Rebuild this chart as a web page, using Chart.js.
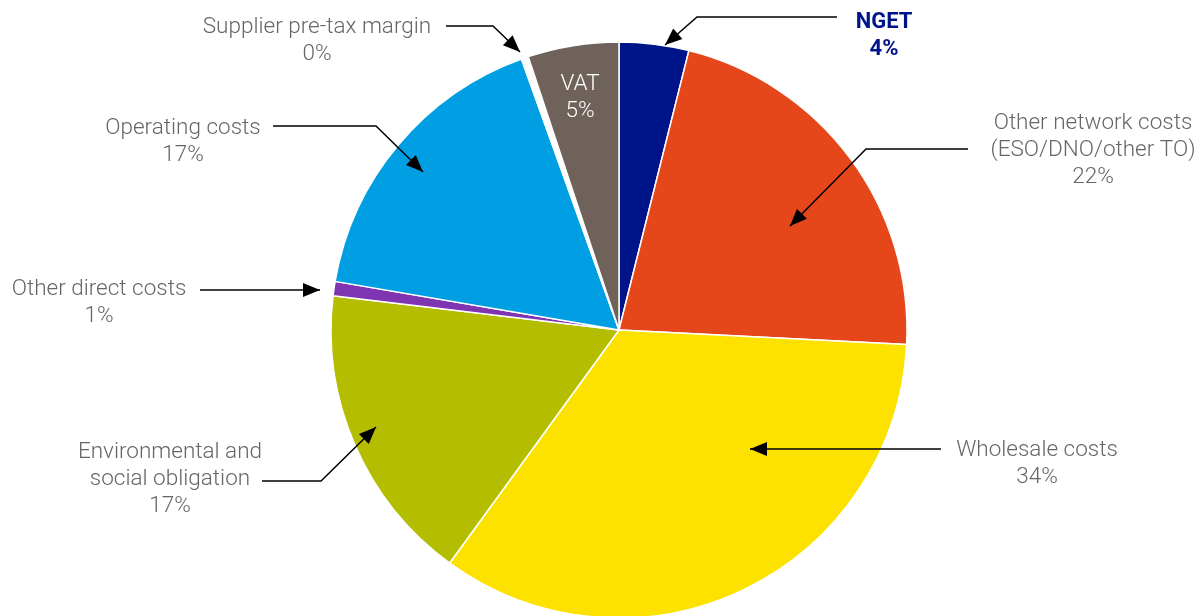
<!DOCTYPE html>
<html>
<head>
<meta charset="utf-8">
<script src="https://cdn.jsdelivr.net/npm/chart.js@4"></script>
<style>
  html, body { margin: 0; padding: 0; background: #fff; }
  #wrap { width: 1202px; height: 616px; }
</style>
</head>
<body>
<div id="wrap"><canvas id="pieChart" width="1202" height="616"></canvas></div>
<script>
var categories = ['NGET', 'Other network costs\n(ESO/DNO/other TO)', 'Wholesale costs', 'Environmental and\nsocial obligation', 'Other direct costs', 'Operating costs', 'Supplier pre-tax margin', 'VAT'];
var values = [3.9, 21.9, 34.2, 16.9, 0.8, 16.8, 0.4, 5.1];
var colors = ['#001489', '#e5471b', '#fde200', '#b5bd00', '#7f35b2', '#009fe3', '#ffffff', '#6e625a'];

// label placement: text centre, then leader path (last point = arrow tip)
var callouts = [
    { x: 884, y: 22, color: '#001489', bold: true, path: [[837, 17], [697, 17], [665, 45]] },
    { x: 1093, y: 123, path: [[968, 149], [866, 149], [790, 226]] },
    { x: 1037, y: 450, path: [[941, 449], [750, 449]] },
    { x: 170, y: 452, path: [[262, 481], [321, 481], [376, 427]] },
    { x: 99, y: 289, path: [[200, 290], [320, 290]] },
    { x: 183, y: 128, path: [[273, 126], [376, 126], [423, 172]] },
    { x: 317, y: 27, path: [[446, 26], [493, 26], [520, 52]] },
    { x: 580, y: 84, color: '#ffffff', path: null }
];

var calloutPlugin = {
    id: 'callouts',
    afterDraw: function (chart) {
        var c = chart.ctx;
        c.save();
        callouts.forEach(function (co, i) {
            var lines = categories[i].split('\n');
            lines.push(Math.round(values[i]) + '%');
            c.font = (co.bold ? 'bold 22px' : '300 22.5px') + ' Roboto, "Liberation Sans", sans-serif';
            c.fillStyle = co.color || '#666666';
            c.textAlign = 'center';
            c.textBaseline = 'middle';
            lines.forEach(function (t, k) {
                c.fillText(t, co.x, co.y + k * 27);
            });
            if (!co.path) return;
            var p = co.path;
            c.strokeStyle = '#000';
            c.lineWidth = 1.5;
            c.beginPath();
            c.moveTo(p[0][0], p[0][1]);
            for (var k = 1; k < p.length; k++) c.lineTo(p[k][0], p[k][1]);
            c.stroke();
            // arrow head
            var a = p[p.length - 2], b = p[p.length - 1];
            var ang = Math.atan2(b[1] - a[1], b[0] - a[0]);
            var len = 17, half = 7;
            c.fillStyle = '#000';
            c.beginPath();
            c.moveTo(b[0], b[1]);
            c.lineTo(b[0] - len * Math.cos(ang) + half * Math.sin(ang), b[1] - len * Math.sin(ang) - half * Math.cos(ang));
            c.lineTo(b[0] - len * Math.cos(ang) - half * Math.sin(ang), b[1] - len * Math.sin(ang) + half * Math.cos(ang));
            c.closePath();
            c.fill();
        });
        c.restore();
    }
};

var ctx = document.getElementById('pieChart').getContext('2d');
var myChart = new Chart(ctx, {
    type: 'pie',
    data: {
        labels: categories,
        datasets: [{
            data: values,
            backgroundColor: colors,
            borderColor: '#ffffff',
            borderWidth: 1.5,
            radius: 288
        }]
    },
    options: {
        responsive: false,
        animation: false,
        layout: { padding: { top: 44, left: 36, right: 0, bottom: 0 } },
        plugins: {
            legend: { display: false },
            tooltip: { enabled: false }
        }
    },
    plugins: [calloutPlugin]
});
</script>
</body>
</html>
